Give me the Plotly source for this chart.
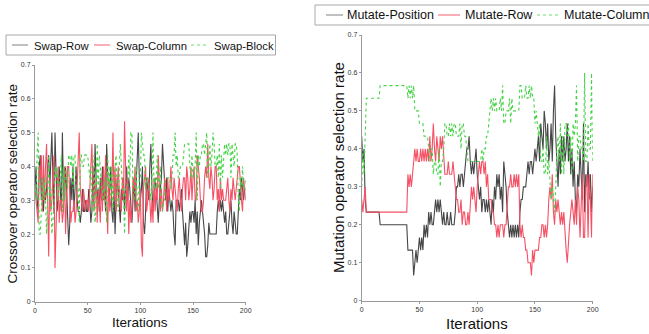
import plotly.graph_objects as go

# Operator selection counts per iteration (out of a pool of 30); rate = count / 30
POOL = 30
iterations = list(range(201))

# ---- Crossover operators (left panel) ----
swap_row = [
    10, 12, 9, 8, 12, 13, 9, 11, 8, 10,
    9, 10, 12, 13, 10, 12, 15, 11, 8, 15,
    11, 8, 9, 12, 10, 8, 15, 10, 9, 12,
    10, 8, 5, 7, 11, 9, 12, 8, 10, 12,
    9, 8, 8, 7, 8, 10, 8, 8, 9, 8,
    8, 10, 9, 7, 8, 12, 9, 14, 11, 9,
    10, 8, 11, 9, 12, 9, 10, 8, 14, 11,
    9, 10, 12, 8, 7, 10, 6, 9, 11, 10,
    8, 7, 10, 9, 11, 8, 10, 12, 9, 11,
    10, 8, 7, 9, 11, 8, 10, 12, 15, 11,
    9, 10, 12, 7, 6, 8, 11, 10, 9, 12,
    14, 10, 8, 9, 11, 10, 8, 7, 9, 10,
    11, 14, 12, 10, 9, 11, 8, 10, 9, 8,
    9, 8, 6, 5, 9, 9, 9, 8, 9, 10,
    8, 6, 5, 7, 4, 5, 7, 8, 7, 8,
    8, 7, 9, 6, 8, 5, 7, 8, 9, 8,
    7, 6, 4, 4, 5, 7, 6, 6, 6, 6,
    6, 6, 6, 8, 9, 8, 9, 8, 9, 8,
    7, 8, 6, 6, 7, 8, 9, 7, 6, 8,
    7, 6, 6, 9, 10, 9, 11, 10, 9, 10, 10,
]
swap_column = [
    10, 9, 8, 7, 12, 11, 13, 8, 13, 9,
    12, 14, 9, 4, 11, 8, 9, 12, 13, 3,
    8, 10, 12, 7, 9, 9, 7, 8, 12, 6,
    9, 12, 12, 10, 7, 8, 8, 9, 7, 8,
    11, 12, 15, 10, 9, 8, 10, 9, 8, 9,
    9, 8, 10, 11, 14, 10, 8, 9, 11, 7,
    10, 9, 7, 11, 8, 12, 9, 13, 9, 6,
    11, 8, 9, 10, 15, 9, 12, 8, 10, 12,
    10, 9, 8, 11, 9, 16, 10, 8, 11, 6,
    9, 7, 8, 11, 10, 12, 8, 9, 7, 8,
    10, 5, 4, 10, 11, 12, 8, 9, 11, 8,
    7, 9, 7, 11, 8, 10, 9, 13, 10, 8,
    10, 8, 9, 11, 10, 8, 11, 9, 10, 12,
    10, 9, 11, 10, 9, 8, 10, 11, 9, 8,
    10, 11, 11, 9, 12, 11, 9, 10, 12, 9,
    11, 12, 9, 9, 13, 12, 11, 9, 8, 8,
    9, 11, 12, 11, 14, 11, 10, 12, 11, 9,
    10, 12, 12, 9, 10, 8, 11, 9, 10, 9,
    9, 9, 10, 11, 9, 8, 10, 9, 11, 10,
    9, 10, 11, 12, 12, 10, 9, 8, 11, 10, 9,
]
swap_block = [
    10, 9, 13, 15, 6, 6, 8, 11, 9, 11,
    9, 6, 9, 13, 9, 10, 6, 7, 9, 12,
    11, 12, 9, 11, 11, 13, 8, 12, 9, 12,
    11, 10, 13, 13, 12, 13, 10, 13, 13, 10,
    10, 10, 7, 13, 13, 12, 12, 13, 13, 13,
    13, 12, 11, 12, 8, 8, 13, 7, 8, 14,
    10, 13, 12, 10, 10, 9, 11, 9, 7, 13,
    10, 12, 9, 12, 8, 11, 12, 13, 9, 8,
    12, 14, 12, 10, 10, 6, 10, 10, 10, 13,
    11, 15, 15, 10, 9, 10, 12, 9, 8, 11,
    11, 15, 14, 13, 13, 10, 11, 11, 10, 10,
    9, 11, 15, 10, 11, 10, 13, 10, 11, 12,
    9, 8, 9, 9, 11, 11, 11, 11, 11, 10,
    11, 13, 13, 15, 12, 13, 11, 11, 12, 12,
    12, 13, 14, 14, 14, 14, 14, 12, 11, 13,
    11, 11, 12, 15, 9, 13, 12, 13, 13, 14,
    14, 13, 14, 15, 11, 12, 14, 12, 13, 15,
    14, 12, 12, 13, 11, 14, 10, 13, 11, 13,
    14, 13, 14, 13, 14, 14, 11, 14, 13, 12,
    14, 14, 13, 9, 8, 11, 10, 12, 10, 10, 11,
]

# ---- Mutation operators (right panel) ----
mutate_position = [
    13, 11, 12, 8, 7, 7, 7, 7, 7, 7,
    7, 7, 7, 7, 7, 7, 6, 6, 6, 6,
    6, 6, 6, 6, 6, 6, 6, 6, 6, 6,
    6, 6, 6, 6, 6, 6, 6, 6, 6, 6,
    4, 4, 4, 4, 4, 2, 3, 4, 3, 4,
    5, 4, 5, 4, 6, 5, 6, 5, 7, 6,
    7, 6, 6, 7, 8, 7, 8, 7, 8, 7,
    6, 7, 6, 6, 7, 6, 6, 7, 6, 6,
    6, 7, 9, 9, 10, 9, 10, 10, 9, 10,
    11, 12, 12, 13, 11, 10, 11, 10, 11, 12,
    10, 9, 8, 9, 7, 8, 8, 7, 8, 7,
    8, 7, 6, 8, 7, 9, 8, 10, 9, 10,
    8, 9, 7, 11, 10, 9, 7, 6, 5, 6,
    5, 6, 5, 6, 5, 6, 5, 7, 8, 8,
    9, 9, 9, 10, 11, 10, 11, 11, 10, 11,
    12, 11, 12, 13, 11, 14, 13, 12, 15, 14,
    12, 14, 11, 12, 14, 11, 15, 17, 13, 11,
    9, 12, 10, 13, 11, 13, 11, 12, 14, 11,
    13, 10, 12, 9, 11, 8, 7, 10, 9, 12,
    10, 8, 14, 7, 10, 9, 11, 8, 10, 7, 9,
]
mutate_row = [
    8, 7, 8, 9, 7, 7, 7, 7, 7, 7,
    7, 7, 7, 7, 7, 7, 7, 7, 7, 7,
    7, 7, 7, 7, 7, 7, 7, 7, 7, 7,
    7, 7, 7, 7, 7, 7, 7, 7, 7, 7,
    10, 9, 10, 9, 10, 11, 12, 11, 12, 11,
    11, 12, 11, 12, 11, 12, 11, 12, 11, 13,
    11, 12, 14, 12, 11, 13, 12, 11, 13, 12,
    13, 11, 10, 10, 10, 11, 10, 10, 10, 11,
    10, 9, 8, 8, 7, 7, 8, 6, 7, 7,
    6, 6, 7, 6, 8, 9, 8, 9, 8, 7,
    9, 10, 11, 10, 11, 11, 10, 11, 9, 10,
    8, 8, 8, 7, 7, 6, 6, 5, 6, 5,
    6, 6, 6, 5, 6, 6, 8, 9, 9, 10,
    9, 9, 10, 9, 10, 9, 10, 6, 5, 6,
    5, 5, 4, 4, 3, 3, 3, 2, 4, 3,
    4, 4, 4, 4, 5, 5, 6, 6, 5, 6,
    5, 6, 8, 9, 8, 10, 7, 6, 8, 7,
    8, 7, 6, 7, 6, 7, 5, 4, 3, 5,
    6, 7, 8, 7, 6, 8, 6, 9, 8, 5,
    8, 10, 5, 5, 9, 10, 5, 10, 8, 5, 10,
]
mutate_column = [
    9, 12, 10, 13, 16, 16, 16, 16, 16, 16,
    16, 16, 16, 16, 16, 16, 17, 17, 17, 17,
    17, 17, 17, 17, 17, 17, 17, 17, 17, 17,
    17, 17, 17, 17, 17, 17, 17, 17, 17, 17,
    16, 17, 16, 17, 16, 17, 15, 15, 15, 15,
    14, 14, 14, 14, 13, 13, 13, 13, 12, 11,
    12, 12, 10, 11, 11, 10, 10, 12, 9, 11,
    11, 12, 14, 14, 13, 13, 14, 13, 14, 13,
    14, 14, 13, 13, 13, 14, 12, 14, 14, 13,
    13, 12, 11, 11, 11, 11, 11, 11, 11, 11,
    11, 11, 11, 11, 12, 11, 12, 12, 13, 13,
    14, 15, 16, 15, 16, 15, 16, 15, 15, 15,
    16, 15, 17, 14, 14, 15, 15, 15, 16, 14,
    16, 15, 15, 15, 15, 15, 15, 17, 17, 16,
    16, 16, 17, 16, 16, 17, 16, 17, 16, 16,
    14, 15, 14, 13, 14, 11, 11, 12, 10, 10,
    13, 10, 11, 9, 8, 9, 8, 7, 9, 12,
    13, 11, 14, 10, 13, 10, 14, 14, 13, 14,
    11, 13, 10, 14, 13, 14, 17, 11, 13, 13,
    12, 12, 11, 18, 11, 11, 14, 12, 12, 18, 11,
]

x_ticks = [0, 50, 100, 150, 200]
y_ticks = [0, 0.1, 0.2, 0.3, 0.4, 0.5, 0.6, 0.7]

crossover_names = ["Swap-Row", "Swap-Column", "Swap-Block"]
mutation_names = ["Mutate-Position", "Mutate-Row", "Mutate-Column"]

GRAY = "rgb(70,70,70)"
RED = "rgb(245,80,100)"
GREEN = "rgb(70,210,70)"
COLORS = [GRAY, RED, GREEN]
LEGEND_COLORS = ["rgb(150,150,150)", "rgb(250,120,135)", "rgb(110,220,110)"]
DASHES = ["solid", "solid", "dot"]


def rate(counts):
    return [c / POOL for c in counts]


W, H = 649, 334
FONT = "Liberation Sans, Arial, sans-serif"


def px_x(p):
    return p / W


def px_y(p):
    return (H - p) / H


fig = go.Figure()

for name, vals, col, dash in zip(crossover_names, [swap_row, swap_column, swap_block], COLORS, DASHES):
    fig.add_trace(go.Scatter(x=iterations, y=rate(vals), name=name, mode="lines",
                             line=dict(color=col, width=1.1, dash=dash),
                             xaxis="x", yaxis="y", showlegend=False))
for name, vals, col, dash in zip(mutation_names, [mutate_position, mutate_row, mutate_column], COLORS, DASHES):
    fig.add_trace(go.Scatter(x=iterations, y=rate(vals), name=name, mode="lines",
                             line=dict(color=col, width=1.1, dash=dash),
                             xaxis="x2", yaxis="y2", showlegend=False))

axis_common = dict(showline=True, linecolor="#9a9a9a", linewidth=1, ticks="outside",
                   ticklen=2, tickcolor="#9a9a9a", showgrid=False, zeroline=False,
                   tickfont=dict(size=7, color="#333", family=FONT))

fig.update_layout(
    width=W, height=H,
    margin=dict(l=0, r=0, t=0, b=0, autoexpand=False),
    paper_bgcolor="white", plot_bgcolor="white",
    font=dict(family=FONT, color="#111"),
    showlegend=False,
    xaxis=dict(domain=[px_x(35), px_x(245.7)], range=[0, 200], tickvals=x_ticks,
               anchor="y", **axis_common),
    yaxis=dict(domain=[px_y(301.7), px_y(65)], range=[0, 0.7], tickvals=y_ticks,
               anchor="x", **axis_common),
    xaxis2=dict(domain=[px_x(361.7), px_x(592.7)], range=[0, 200], tickvals=x_ticks,
                anchor="y2", **axis_common),
    yaxis2=dict(domain=[px_y(300.7), px_y(35)], range=[0, 0.7], tickvals=y_ticks,
                anchor="x2", **axis_common),
)

# Compact legend boxes (layout decoration, positioned in page pixels)
legends = [
    dict(box=(6, 35, 275.5, 55), size=11.3, names=crossover_names,
         items=[(12, 28, 32), (94, 110, 114), (191, 208, 212)]),
    dict(box=(315, 5, 700, 25), size=12.5, names=mutation_names,
         items=[(326, 343, 345), (438, 460, 463), (537, 560, 562)]),
]
for lg in legends:
    bx0, by0, bx1, by1 = lg["box"]
    fig.add_shape(type="rect", xref="paper", yref="paper",
                  x0=px_x(bx0), x1=px_x(bx1), y0=px_y(by1), y1=px_y(by0),
                  line=dict(color="#a8a8a8", width=1), fillcolor="white", layer="above")
    yc = (by0 + by1) / 2
    for (lx0, lx1, tx), name, lcol, dash in zip(lg["items"], lg["names"], LEGEND_COLORS, DASHES):
        fig.add_shape(type="line", xref="paper", yref="paper",
                      x0=px_x(lx0), x1=px_x(lx1), y0=px_y(yc), y1=px_y(yc),
                      line=dict(color=lcol, width=1.2, dash=dash), layer="above")
        fig.add_annotation(xref="paper", yref="paper", x=px_x(tx), y=px_y(yc + 0.5),
                           text=name, showarrow=False, xanchor="left", yanchor="middle",
                           font=dict(size=lg["size"], color="#111", family=FONT))

annos = [
    dict(text="Crossover operator selection rate", x=px_x(12), y=px_y(183.5),
         textangle=-90, font=dict(size=13.5)),
    dict(text="Iterations", x=px_x(140), y=px_y(322), font=dict(size=13.5)),
    dict(text="Mutation operator selection rate", x=px_x(338), y=px_y(168),
         textangle=-90, font=dict(size=15)),
    dict(text="Iterations", x=px_x(477), y=px_y(323), font=dict(size=15)),
]
for a in annos:
    fig.add_annotation(xref="paper", yref="paper", showarrow=False,
                       xanchor="center", yanchor="middle", **a)

fig.write_html("out.html")
